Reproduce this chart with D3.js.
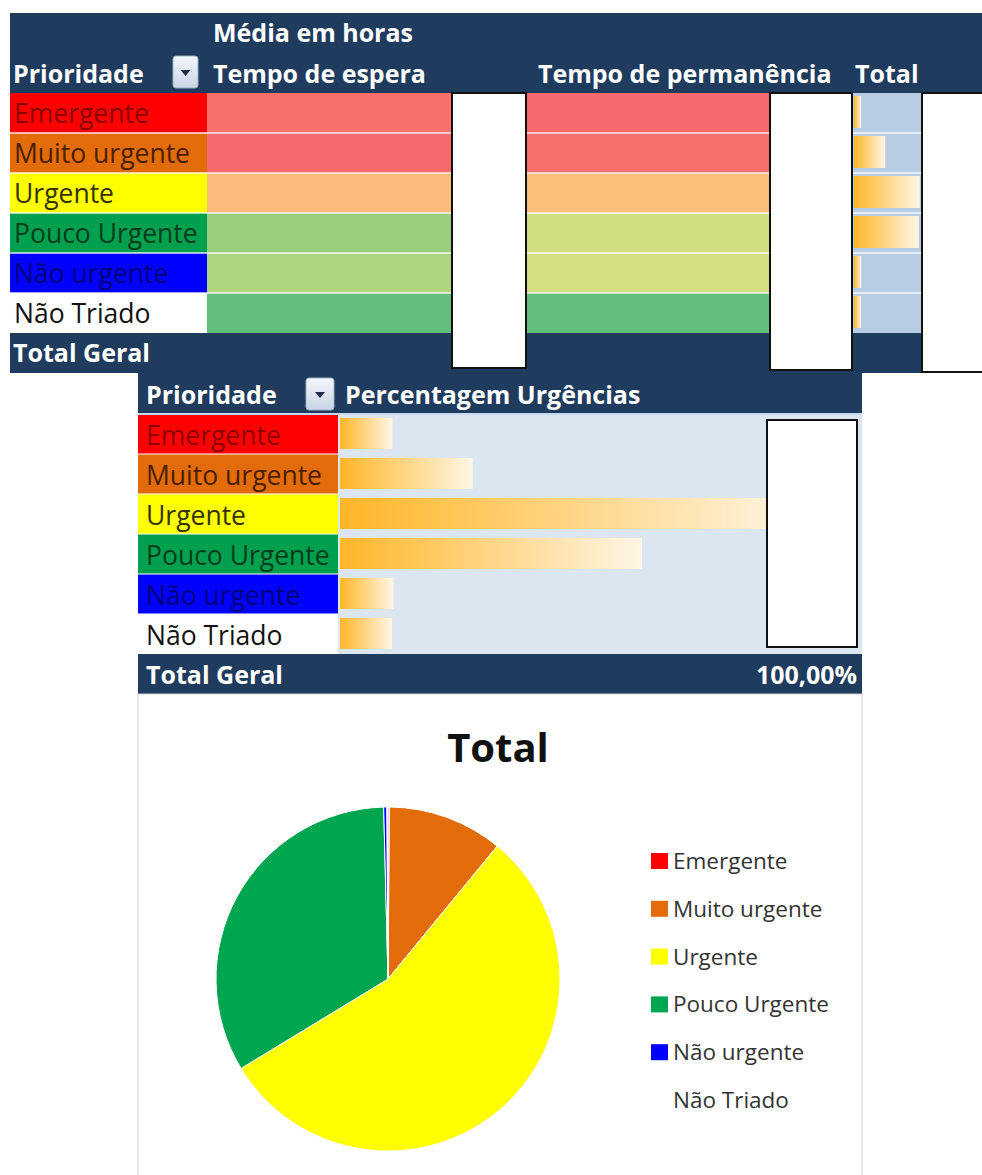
<!DOCTYPE html>
<html>
<head>
<meta charset="utf-8">
<script src="https://cdn.jsdelivr.net/npm/d3@7"></script>
<style>
  body { margin: 0; background: #fff; }
  text { font-family: "Open Sans", sans-serif; }
</style>
</head>
<body>
<div class="container"></div>
<script>
const WIDTH = 982;
const HEIGHT = 1175;
const NAVY = "#1f3b5d";

// data
const categories = ["Emergente", "Muito urgente", "Urgente", "Pouco Urgente", "Não urgente", "Não Triado"];
const tempoEspera = [4.9, 5.0, 3.6, 1.3, 1.6, 0.5];
const tempoPermanencia = [9.0, 8.8, 6.4, 3.8, 3.9, 1.0];
const totalCasos = [3, 160, 385, 378, 4, 2];
const percentUrgencias = [0.15, 10.8, 55.35, 33.3, 0.3, 0.1];
const topHeaders = ["Tempo de espera", "Tempo de permanência", "Total"];
const percentHeader = "Percentagem Urgências";
const totalLabel = "Total Geral";
const totalPercentLabel = "100,00%";

// styles
const catFill = ["#ff0000", "#e36c0a", "#ffff00", "#00a04e", "#0000ff", "#ffffff"];
const catText = ["#8c0000", "#4a2000", "#333300", "#003d1c", "#00007a", "#111111"];
const pieFill = ["#ff0000", "#e36c0a", "#ffff00", "#00a550", "#0000ff", "#ffffff"];

var svg = d3.select(".container")
    .append("svg")
    .attr("width", WIDTH)
    .attr("height", HEIGHT);

var defs = svg.append("defs");
var grad = defs.append("linearGradient").attr("id", "barGrad");
grad.append("stop").attr("offset", "0%").attr("stop-color", "#ffb628");
grad.append("stop").attr("offset", "100%").attr("stop-color", "#fff6e6");

var btnGrad = defs.append("linearGradient").attr("id", "btnGrad")
    .attr("x1", 0).attr("x2", 0).attr("y1", 0).attr("y2", 1);
btnGrad.append("stop").attr("offset", "0%").attr("stop-color", "#f4f7fb");
btnGrad.append("stop").attr("offset", "100%").attr("stop-color", "#c9d5e5");

function dropButton(g, x, y, w, h) {
    g.append("rect").attr("x", x).attr("y", y).attr("width", w).attr("height", h)
        .attr("rx", 3).attr("fill", "url(#btnGrad)").attr("stroke", "#9fb1c8");
    var cx = x + w / 2, cy = y + h / 2;
    g.append("path")
        .attr("d", "M" + (cx - 5) + "," + (cy - 2) + "L" + (cx + 5) + "," + (cy - 2) + "L" + cx + "," + (cy + 4) + "Z")
        .attr("fill", "#1f2f4a");
}

function whiteBox(g, x, y, w, h) {
    g.append("rect").attr("x", x).attr("y", y).attr("width", w).attr("height", h)
        .attr("fill", "#fff").attr("stroke", "#111").attr("stroke-width", 2);
}

// ---------- top table ----------
var T = { x: 10, y: 13, headH: 80, rowH: 40, labelW: 197 };
var tt = svg.append("g");

var rowY = d3.scaleBand().domain(categories).range([T.y + T.headH, T.y + T.headH + T.rowH * categories.length]);

tt.append("rect").attr("x", T.x).attr("y", T.y).attr("width", WIDTH - T.x + 5).attr("height", T.headH).attr("fill", NAVY);
tt.append("rect").attr("x", T.x).attr("y", rowY.range()[1]).attr("width", 912).attr("height", T.rowH).attr("fill", NAVY);

tt.append("text").attr("x", 213).attr("y", 42).text("Média em horas")
    .attr("fill", "#fff").attr("font-weight", "bold").attr("font-size", 25);
tt.append("text").attr("x", 13).attr("y", 83).text("Prioridade")
    .attr("fill", "#fff").attr("font-weight", "bold").attr("font-size", 25);
dropButton(tt, 173, 56, 25, 32);
var headX = [213, 538, 855];
tt.selectAll("text.head").data(topHeaders).join("text")
    .attr("class", "head")
    .attr("x", (d, i) => headX[i]).attr("y", 83).text(d => d)
    .attr("fill", "#fff").attr("font-weight", "bold").attr("font-size", 25);

// label column
tt.selectAll("rect.lab").data(categories).join("rect")
    .attr("class", "lab")
    .attr("x", T.x).attr("y", d => rowY(d)).attr("width", T.labelW).attr("height", rowY.bandwidth())
    .attr("fill", (d, i) => catFill[i]);
tt.selectAll("text.lab").data(categories).join("text")
    .attr("class", "lab")
    .attr("x", T.x + 4).attr("y", d => rowY(d) + 30).text(d => d)
    .attr("fill", (d, i) => catText[i]).attr("font-size", 26.5);

// colour scale columns
function colourScale(vals) {
    var ext = d3.extent(vals);
    return d3.scaleLinear().domain([ext[0], (ext[0] + ext[1]) / 2, ext[1]])
        .range(["#63be7b", "#ffeb84", "#f8696b"]);
}
var cEspera = colourScale(tempoEspera);
var cPerm = colourScale(tempoPermanencia);

tt.selectAll("rect.esp").data(tempoEspera).join("rect")
    .attr("class", "esp")
    .attr("x", 207).attr("y", (d, i) => rowY(categories[i])).attr("width", 319).attr("height", rowY.bandwidth())
    .attr("fill", d => cEspera(d));
tt.selectAll("rect.perm").data(tempoPermanencia).join("rect")
    .attr("class", "perm")
    .attr("x", 526).attr("y", (d, i) => rowY(categories[i])).attr("width", 326).attr("height", rowY.bandwidth())
    .attr("fill", d => cPerm(d));

// total column with data bars
var totCell = { x: 852, w: 70 };
tt.append("rect").attr("x", totCell.x).attr("y", rowY.range()[0]).attr("width", totCell.w)
    .attr("height", rowY.range()[1] - rowY.range()[0]).attr("fill", "#b8cce4");
var xTot = d3.scaleLinear().domain(d3.extent(totalCasos)).range([0.1 * totCell.w, 0.94 * totCell.w]);
tt.selectAll("rect.tot").data(totalCasos).join("rect")
    .attr("class", "tot")
    .attr("x", totCell.x + 2).attr("y", (d, i) => rowY(categories[i]) + 3)
    .attr("width", d => xTot(d)).attr("height", rowY.bandwidth() - 8)
    .attr("fill", "url(#barGrad)");

// row separators
tt.selectAll("line.sep").data(categories.slice(1)).join("line")
    .attr("class", "sep")
    .attr("x1", T.x).attr("x2", 922).attr("y1", d => rowY(d)).attr("y2", d => rowY(d))
    .attr("stroke", "#fff").attr("stroke-opacity", 0.65).attr("stroke-width", 2);

tt.append("text").attr("x", 13).attr("y", 362).text(totalLabel)
    .attr("fill", "#fff").attr("font-weight", "bold").attr("font-size", 25);

whiteBox(tt, 452, 93, 74, 275);
whiteBox(tt, 770, 93, 82, 277);
whiteBox(tt, 922, 93, 70, 279);

// ---------- percentage table ----------
var P = { x: 138, y: 372, w: 724, headH: 42, rowH: 40, labelW: 200 };
var pt = svg.append("g");
var pY = d3.scaleBand().domain(categories).range([P.y + P.headH, P.y + P.headH + P.rowH * categories.length]);

pt.append("rect").attr("x", P.x).attr("y", P.y).attr("width", P.w).attr("height", P.headH).attr("fill", NAVY);
pt.append("rect").attr("x", P.x).attr("y", pY.range()[0]).attr("width", P.w)
    .attr("height", pY.range()[1] - pY.range()[0]).attr("fill", "#dce6f1");
pt.append("rect").attr("x", P.x).attr("y", pY.range()[1]).attr("width", P.w).attr("height", P.rowH).attr("fill", NAVY);

pt.append("text").attr("x", 146).attr("y", 404).text("Prioridade")
    .attr("fill", "#fff").attr("font-weight", "bold").attr("font-size", 25);
dropButton(pt, 306, 378, 28, 32);
pt.append("text").attr("x", 345).attr("y", 404).text(percentHeader)
    .attr("fill", "#fff").attr("font-weight", "bold").attr("font-size", 25);

pt.selectAll("rect.lab").data(categories).join("rect")
    .attr("class", "lab")
    .attr("x", P.x).attr("y", d => pY(d)).attr("width", P.labelW).attr("height", pY.bandwidth())
    .attr("fill", (d, i) => catFill[i]);
pt.selectAll("text.lab").data(categories).join("text")
    .attr("class", "lab")
    .attr("x", P.x + 8).attr("y", d => pY(d) + 31).text(d => d)
    .attr("fill", (d, i) => catText[i]).attr("font-size", 26.5);

var barCell = { x: 340, w: 520 };
var xPct = d3.scaleLinear().domain(d3.extent(percentUrgencias)).range([0.1 * barCell.w, 0.9 * barCell.w]);
pt.selectAll("rect.bar").data(percentUrgencias).join("rect")
    .attr("class", "bar")
    .attr("x", barCell.x).attr("y", (d, i) => pY(categories[i]) + 4)
    .attr("width", d => xPct(d)).attr("height", pY.bandwidth() - 9)
    .attr("fill", "url(#barGrad)");

pt.selectAll("line.sep").data(categories.slice(1)).join("line")
    .attr("class", "sep")
    .attr("x1", P.x).attr("x2", P.x + P.labelW).attr("y1", d => pY(d)).attr("y2", d => pY(d))
    .attr("stroke", "#fff").attr("stroke-opacity", 0.5).attr("stroke-width", 2);
pt.append("line").attr("x1", P.x).attr("x2", P.x + P.w)
    .attr("y1", pY.range()[0]).attr("y2", pY.range()[0]).attr("stroke", "#c5d9f1").attr("stroke-width", 2);

pt.append("text").attr("x", 146).attr("y", pY.range()[1] + 30).text(totalLabel)
    .attr("fill", "#fff").attr("font-weight", "bold").attr("font-size", 25);
pt.append("text").attr("x", 857).attr("y", pY.range()[1] + 30).text(totalPercentLabel)
    .attr("text-anchor", "end")
    .attr("fill", "#fff").attr("font-weight", "bold").attr("font-size", 25);

whiteBox(pt, 767, 420, 90, 227);

// ---------- pie chart ----------
var chartTop = pY.range()[1] + P.rowH;
var ch = svg.append("g");
ch.append("rect").attr("x", P.x).attr("y", chartTop).attr("width", P.w).attr("height", HEIGHT - chartTop + 10)
    .attr("fill", "#fff").attr("stroke", "#d0d0d0");

ch.append("text").attr("x", 498).attr("y", 762).text("Total")
    .attr("text-anchor", "middle").attr("font-weight", "bold").attr("font-size", 40).attr("fill", "#111");

var pie = d3.pie().sort(null).value(d => d);
var arc = d3.arc().innerRadius(0).outerRadius(172);
ch.append("g").attr("transform", "translate(388,979)")
    .selectAll("path").data(pie(percentUrgencias)).join("path")
    .attr("d", arc)
    .attr("fill", (d, i) => pieFill[i])
    .attr("stroke", "#fff").attr("stroke-width", 1);

var legY = d3.scalePoint().domain(categories).range([861, 1100]);
var leg = ch.append("g");
leg.selectAll("rect").data(categories).join("rect")
    .attr("x", 651).attr("y", d => legY(d) - 8).attr("width", 17).attr("height", 16)
    .attr("fill", (d, i) => pieFill[i]);
leg.selectAll("text").data(categories).join("text")
    .attr("x", 673).attr("y", d => legY(d) + 8).text(d => d)
    .attr("font-size", 22.5).attr("fill", "#333");
</script>
</body>
</html>
